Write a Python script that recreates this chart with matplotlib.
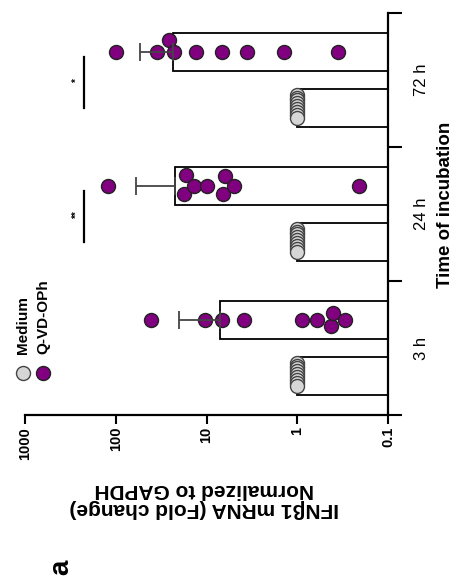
import numpy as np
import matplotlib
matplotlib.use("Agg")
import matplotlib.pyplot as plt
from matplotlib.transforms import blended_transform_factory

plt.rcParams['font.family'] = ['Liberation Sans', 'DejaVu Sans']

# fold change of IFNb1 per well, normalized to GAPDH
categories = ['3 h', '24 h', '72 h']
medium = [
    [1.0, 1.0, 1.0, 1.0, 1.0, 1.0, 1.0, 1.0, 1.0],
    [1.0, 1.0, 1.0, 1.0, 1.0, 1.0, 1.0, 1.0, 1.0],
    [1.0, 1.0, 1.0, 1.0, 1.0, 1.0, 1.0, 1.0, 1.0],
]
qvd = [
    [41, 10.3, 6.7, 3.9, 0.88, 0.60, 0.43, 0.40, 0.30],
    [122, 17.9, 17.0, 13.9, 10.0, 6.5, 6.2, 5.0, 0.21],
    [100, 35, 26, 23, 13, 6.8, 3.6, 1.4, 0.36],
]
stars = ['', '**', '*']

purple = '#800080'
grey = '#d6d6d6'
baseline = 0.1

fig = plt.figure(figsize=(4.57, 5.84), dpi=100)
W, H = 457, 584
ax = fig.add_axes([25 / W, 1 - 415 / H, 363 / W, 402 / H])
ax.set_xscale('log')
ax.set_xlim(1000, 0.1)
ax.set_ylim(-0.5, 2.5)

for s in ['top', 'left']:
    ax.spines[s].set_visible(False)
for s in ['bottom', 'right']:
    ax.spines[s].set_linewidth(1.6)

ax.set_xticks([0.1, 1, 10, 100, 1000])
ax.set_xticklabels(['0.1', '1', '10', '100', '1000'], rotation=90,
                   fontsize=10.5, fontweight='bold')
ax.xaxis.set_minor_locator(matplotlib.ticker.NullLocator())
ax.tick_params(axis='x', length=6.5, width=1.5, pad=2)
ax.yaxis.tick_right()
ax.set_yticks([-0.5, 0.5, 1.5, 2.5])
ax.set_yticklabels([])
ax.tick_params(axis='y', length=10, width=1.5)

pos = np.arange(len(categories))
off = 0.21
bw = 0.28
diam = 14.0  # marker diameter in px
ms = diam * 72 / fig.dpi

med_means = [np.mean(v) for v in medium]
qvd_means = [np.mean(v) for v in qvd]
qvd_sd = [np.std(v, ddof=1) for v in qvd]

ax.barh(pos - off, np.subtract(med_means, baseline), left=baseline, height=bw,
        color='white', edgecolor='black', linewidth=1.3, zorder=1)
ax.barh(pos + off, np.subtract(qvd_means, baseline), left=baseline, height=bw,
        color='white', edgecolor='black', linewidth=1.3, zorder=1)

px_per_unit = ax.transData.transform([(1, 1)])[0, 1] - ax.transData.transform([(1, 0)])[0, 1]


def swarm(vals):
    xs = ax.transData.transform(np.column_stack([vals, np.zeros(len(vals))]))[:, 0]
    offs = np.zeros(len(vals))
    cand = [0.0]
    for k in range(1, 80):
        cand += [k * 0.5, -k * 0.5]
    placed = []
    for i in np.argsort(vals):
        for c in cand:
            if all((xs[i] - xs[j]) ** 2 + (c - offs[j]) ** 2 >= (0.92 * diam) ** 2 for j in placed):
                offs[i] = c
                break
        placed.append(i)
    return offs / px_per_unit


for i in range(len(categories)):
    n = len(medium[i])
    yy = pos[i] - off + np.linspace(0.1, -0.07, n)
    ax.scatter(medium[i], yy, s=ms ** 2, color=grey, edgecolor='#444444',
               linewidth=1.0, zorder=3, clip_on=False)
    yq = pos[i] + off + swarm(np.array(qvd[i]))
    ax.scatter(qvd[i], yq, s=ms ** 2, color=purple, edgecolor='#222222',
               linewidth=1.0, zorder=3, clip_on=False)
    ax.errorbar(qvd_means[i], pos[i] + off, xerr=[[0], [qvd_sd[i]]], fmt='none',
                ecolor='#444444', elinewidth=1.3, capsize=6.5, capthick=1.3, zorder=4)

# significance brackets
for i, st in enumerate(stars):
    if not st:
        continue
    ax.plot([224, 224], [pos[i] - off, pos[i] + off - 0.04], color='black', lw=1.6,
            clip_on=False, zorder=5)
    ax.text(268, pos[i], st, rotation=90, ha='center', va='center', fontsize=7,
            fontweight='bold')

trans = blended_transform_factory(ax.transAxes, ax.transData)
for i, c in enumerate(categories):
    ax.text((422 - 25) / 363, pos[i], c, transform=trans, rotation=90,
            ha='center', va='center', fontsize=12)

fig.text(445 / W, 1 - 205 / H, 'Time of incubation', rotation=90, ha='center',
         va='center', fontsize=13.5, fontweight='bold')
fig.text(204 / W, 1 - 499 / H, 'IFNβ1 mRNA (Fold change)\nNormalized to GAPDH',
         rotation=180, ha='center', va='center', fontsize=15, fontweight='bold',
         linespacing=1.0)
fig.text(61 / W, 1 - 567 / H, 'a', rotation=90, ha='center', va='center',
         fontsize=20, fontweight='bold')

# legend
fig.add_artist(plt.Line2D([23 / W], [1 - 373 / H], marker='o', ms=ms,
                          mfc=grey, mec='#444444', mew=1.0, ls=''))
fig.add_artist(plt.Line2D([43 / W], [1 - 373 / H], marker='o', ms=ms,
                          mfc=purple, mec='#222222', mew=1.0, ls=''))
fig.text(23 / W, 1 - 354 / H, 'Medium', rotation=90, ha='center', va='bottom',
         fontsize=11, fontweight='bold')
fig.text(43 / W, 1 - 354 / H, 'Q-VD-OPh', rotation=90, ha='center', va='bottom',
         fontsize=11, fontweight='bold')

fig.savefig('out.png', dpi=100)
